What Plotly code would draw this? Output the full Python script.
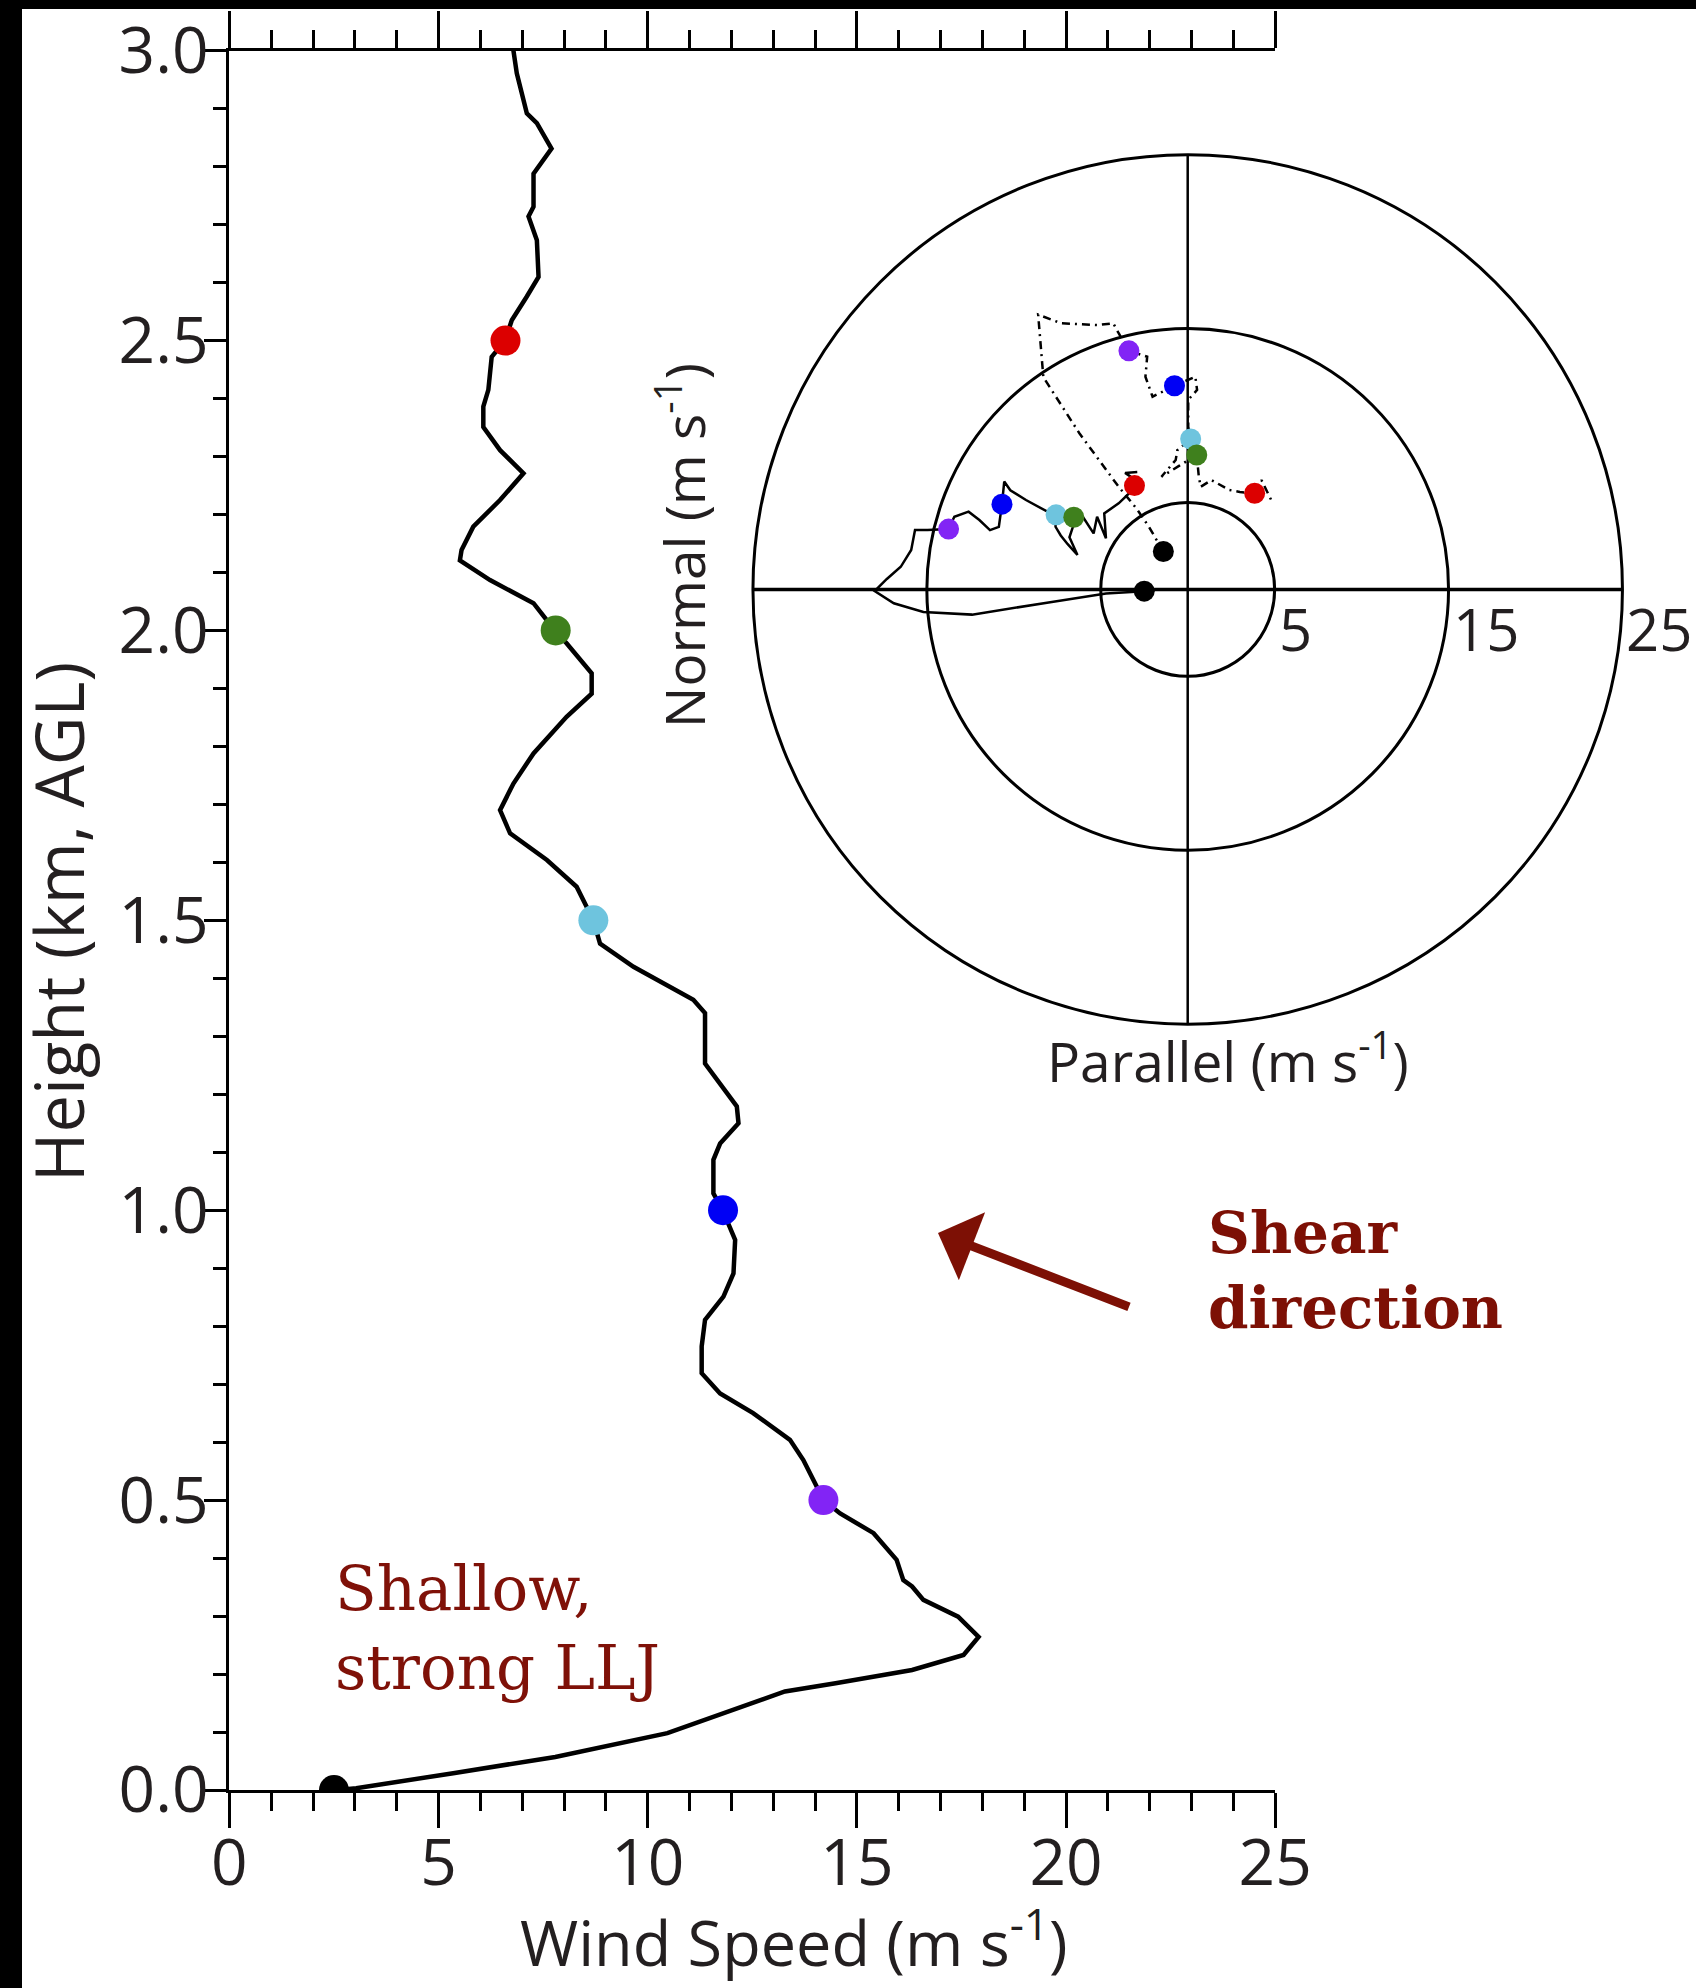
import plotly.graph_objects as go

W, H = 1696, 1988

# ---------------- data: wind speed profile ----------------
height_km = [0.000, 0.003, 0.029, 0.057, 0.098, 0.138, 0.170, 0.184, 0.207, 0.233,
             0.264, 0.299, 0.328, 0.351, 0.362, 0.397, 0.443, 0.477, 0.500, 0.529,
             0.569, 0.604, 0.650, 0.684, 0.719, 0.765, 0.811, 0.851, 0.891, 0.949,
             1.000, 1.029, 1.087, 1.115, 1.150, 1.179, 1.225, 1.253, 1.340, 1.363,
             1.420, 1.460, 1.500, 1.558, 1.604, 1.650, 1.690, 1.736, 1.788, 1.851,
             1.891, 1.926, 1.978, 2.000, 2.047, 2.087, 2.121, 2.139, 2.179, 2.225,
             2.271, 2.311, 2.351, 2.386, 2.415, 2.472, 2.500, 2.535, 2.576, 2.610,
             2.673, 2.714, 2.731, 2.788, 2.831, 2.875, 2.892, 2.961, 3.000]
speed_ms = [2.6, 3.03, 5.35, 7.79, 10.47, 12.06, 13.28, 14.49, 16.32, 17.55,
            17.91, 17.42, 16.59, 16.32, 16.11, 15.95, 15.40, 14.60, 14.20, 14.00,
            13.72, 13.40, 12.52, 11.73, 11.29, 11.29, 11.37, 11.81, 12.05, 12.09,
            11.79, 11.57, 11.57, 11.73, 12.17, 12.13, 11.65, 11.37, 11.37, 11.09,
            9.66, 8.86, 8.70, 8.30, 7.59, 6.71, 6.47, 6.79, 7.27, 8.06,
            8.66, 8.66, 8.06, 7.78, 7.27, 6.23, 5.51, 5.55, 5.83, 6.47,
            7.03, 6.47, 6.07, 6.07, 6.19, 6.27, 6.59, 6.75, 7.11, 7.39,
            7.35, 7.15, 7.27, 7.27, 7.70, 7.35, 7.11, 6.87, 6.79]

level_height_km = [0.0, 0.5, 1.0, 1.5, 2.0, 2.5]
level_speed_ms = [2.5, 14.2, 11.8, 8.7, 7.8, 6.6]
level_colors = ["#000000", "#8224f5", "#0000f5", "#6ec4de", "#3f801d", "#dc0000"]

# ---------------- data: hodograph ----------------
hodo_solid_u = [-2.5, -4.7, -8.0, -12.4, -15.2, -16.9, -18.0, -17.3, -16.5, -15.9,
                -15.68, -14.96, -13.75, -13.42, -12.6, -11.98, -11.37, -10.86, -10.68, -10.55,
                -10.2, -9.3, -7.88, -7.57, -7.6, -7.3, -6.9, -6.34, -6.8, -6.6,
                -6.55, -6.03, -5.41, -5.21, -4.7, -4.8, -3.97, -3.36, -3.06, -3.3,
                -3.6, -2.9]
hodo_solid_v = [-0.1, -0.24, -0.75, -1.45, -1.3, -0.8, -0.1, 0.6, 1.3, 2.27,
                3.41, 3.41, 3.47, 4.18, 4.47, 3.99, 3.41, 3.6, 4.9, 6.2,
                5.7, 5.14, 4.37, 4.29, 3.6, 3.1, 2.6, 1.98, 3.0, 3.6,
                4.15, 4.18, 3.22, 4.18, 2.94, 4.37, 4.95, 5.53, 5.97, 6.5,
                6.7, 6.75]

hodo_dash_u = [-1.4, -2.23, -2.95, -3.97, -6.23, -8.3, -8.6, -7.26, -5.21, -4.28,
               -3.97, -3.38, -2.33, -2.43, -2.02, -0.76, 0.44, 0.54, 0.03, 0.03,
               0.17, -0.6, -0.69, -1.51, -0.5, 0.52, 0.64, 0.75, 1.36, 2.39,
               3.0, 3.85, 4.24, 4.85]
hodo_dash_v = [2.18, 3.6, 4.66, 5.9, 8.98, 12.2, 15.8, 15.3, 15.2, 15.3,
               14.73, 13.72, 13.38, 12.23, 11.08, 11.71, 12.23, 11.47, 10.9, 9.36,
               8.65, 8.0, 7.44, 6.48, 7.1, 7.73, 6.48, 5.9, 6.29, 5.72,
               5.6, 5.53, 6.29, 5.04]

hodo_solid_mark_u = [-2.5, -13.75, -10.68, -7.57, -6.55, -3.06]
hodo_solid_mark_v = [-0.1, 3.47, 4.9, 4.29, 4.15, 5.97]
hodo_dash_mark_u = [-1.4, -3.38, -0.76, 0.17, 0.52, 3.85]
hodo_dash_mark_v = [2.18, 13.72, 11.71, 8.65, 7.73, 5.53]
ring_radii = [5, 15, 25]
ring_labels = ["5", "15", "25"]

x_tick_vals = [0, 5, 10, 15, 20, 25]
y_tick_vals = [0.0, 0.5, 1.0, 1.5, 2.0, 2.5, 3.0]

# ---------------- layout geometry (pixels) ----------------
AX_L, AX_R = 229.4, 1275.2          # x = 0 .. 25
AX_T, AX_B = 50.7, 1790.0           # y = 3 .. 0
HC_X, HC_Y, HS = 1187.7, 589.4, 17.39   # hodograph centre and px per m/s
H_L, H_R, H_T, H_B = 700.0, 1696.0, 100.0, 1080.0


def px(xp):
    return xp / W


def py(yp):
    return 1 - yp / H


INK = "#231f20"
RED = "#7d1005"
tickfont = dict(family="Open Sans", size=64, color=INK)

fig = go.Figure()

# profile
fig.add_trace(go.Scatter(x=speed_ms, y=height_km, mode="lines",
                         line=dict(color="black", width=4.5), hoverinfo="skip",
                         showlegend=False, xaxis="x", yaxis="y"))
fig.add_trace(go.Scatter(x=level_speed_ms, y=level_height_km, mode="markers",
                         marker=dict(color=level_colors, size=30, line=dict(width=0)),
                         showlegend=False, xaxis="x", yaxis="y"))
# invisible trace to register the top axis
fig.add_trace(go.Scatter(x=[None], y=[None], xaxis="x3", yaxis="y", showlegend=False,
                         hoverinfo="skip"))

# hodograph
fig.add_trace(go.Scatter(x=hodo_dash_u, y=hodo_dash_v, mode="lines",
                         line=dict(color="black", width=2.5, dash="8px,5px,2px,5px"),
                         showlegend=False, xaxis="x2", yaxis="y2", hoverinfo="skip"))
fig.add_trace(go.Scatter(x=hodo_solid_u, y=hodo_solid_v, mode="lines",
                         line=dict(color="black", width=2.5),
                         showlegend=False, xaxis="x2", yaxis="y2", hoverinfo="skip"))
fig.add_trace(go.Scatter(x=hodo_solid_mark_u, y=hodo_solid_mark_v, mode="markers",
                         marker=dict(color=level_colors, size=21, line=dict(width=0)),
                         showlegend=False, xaxis="x2", yaxis="y2"))
fig.add_trace(go.Scatter(x=hodo_dash_mark_u, y=hodo_dash_mark_v, mode="markers",
                         marker=dict(color=level_colors, size=21, line=dict(width=0)),
                         showlegend=False, xaxis="x2", yaxis="y2"))

shapes = []
for r in ring_radii:
    shapes.append(dict(type="circle", xref="x2", yref="y2", x0=-r, x1=r, y0=-r, y1=r,
                       line=dict(color="black", width=3), layer="below"))
R = max(ring_radii)
shapes.append(dict(type="line", xref="x2", yref="y2", x0=-R, x1=R, y0=0, y1=0,
                   line=dict(color="black", width=3.5), layer="below"))
shapes.append(dict(type="line", xref="x2", yref="y2", x0=0, x1=0, y0=-R, y1=R,
                   line=dict(color="black", width=2.5), layer="below"))
# black frame bands of the original picture
shapes.append(dict(type="rect", xref="paper", yref="paper", x0=0, x1=px(22), y0=0, y1=1,
                   fillcolor="black", line=dict(width=0)))
shapes.append(dict(type="rect", xref="paper", yref="paper", x0=0, x1=1, y0=py(9), y1=1,
                   fillcolor="black", line=dict(width=0)))

annotations = []
for r, lab in zip(ring_radii, ring_labels):
    annotations.append(dict(x=r, y=0, xref="x2", yref="y2", text=lab, showarrow=False,
                            xanchor="left", yanchor="top", xshift=2, yshift=2,
                            font=dict(family="Open Sans", size=58, color=INK)))


def label(xp, yp, text, size, angle=0, family="Open Sans", color=INK,
          xanchor="center", yanchor="middle", align="center"):
    return dict(x=px(xp), y=py(yp), xref="paper", yref="paper", text=text,
                textangle=angle, showarrow=False, xanchor=xanchor, yanchor=yanchor,
                align=align, font=dict(family=family, size=size, color=color))


annotations += [
    label(58, 922, "Height (km, AGL)", 67, angle=-90),
    label(794, 1938, "Wind Speed (m s<sup>-1</sup>)", 63),
    label(681, 546, "Normal (m s<sup>-1</sup>)", 55, angle=-90),
    label(1228, 1058, "Parallel (m s<sup>-1</sup>)", 55),
    label(333, 1628, "Shallow,<br>strong LLJ", 61, family="DejaVu Serif",
          color="#7f1108", xanchor="left", align="left"),
    label(1206, 1270, "<b>Shear<br>direction</b>", 58, family="DejaVu Serif",
          color=RED, xanchor="left", align="left"),
    dict(x=px(938), y=py(1233), xref="paper", yref="paper", text=" ", showarrow=True,
         ax=194, ay=75, arrowhead=1, arrowsize=1.35, arrowwidth=9, arrowcolor=RED,
         standoff=0),
]

axis_common = dict(showgrid=False, zeroline=False, showline=True, linecolor="black",
                   linewidth=3, ticks="outside", tickcolor="black", tickwidth=3)

fig.update_layout(
    width=W, height=H,
    margin=dict(l=0, r=0, t=0, b=0),
    paper_bgcolor="white", plot_bgcolor="rgba(0,0,0,0)",
    showlegend=False,
    xaxis=dict(domain=[px(AX_L), px(AX_R)], range=[0, 25], anchor="y",
               tickvals=x_tick_vals, ticklen=35, tickfont=tickfont, ticklabelstandoff=-20,
               minor=dict(dtick=1, ticklen=18, tickwidth=3, tickcolor="black", ticks="outside"),
               automargin=False, **axis_common),
    xaxis3=dict(domain=[px(AX_L), px(AX_R)], range=[0, 25], anchor="y", overlaying="x",
                side="top", tickvals=x_tick_vals, ticklen=37, showticklabels=False,
                minor=dict(dtick=1, ticklen=18, tickwidth=3, tickcolor="black", ticks="outside"),
                automargin=False, **axis_common),
    yaxis=dict(domain=[py(AX_B), py(AX_T)], range=[0, 3], anchor="x",
               tickvals=y_tick_vals, tickformat=".1f", ticklen=22, tickfont=tickfont,
               ticklabelstandoff=-17,
               minor=dict(dtick=0.1, ticklen=13, tickwidth=3, tickcolor="black", ticks="outside"),
               automargin=False, **axis_common),
    xaxis2=dict(domain=[px(H_L), px(H_R)], anchor="y2",
                range=[(H_L - HC_X) / HS, (H_R - HC_X) / HS],
                visible=False),
    yaxis2=dict(domain=[py(H_B), py(H_T)], anchor="x2",
                range=[(HC_Y - H_B) / HS, (HC_Y - H_T) / HS],
                visible=False),
    shapes=shapes,
    annotations=annotations,
)

fig.write_html("out.html")
